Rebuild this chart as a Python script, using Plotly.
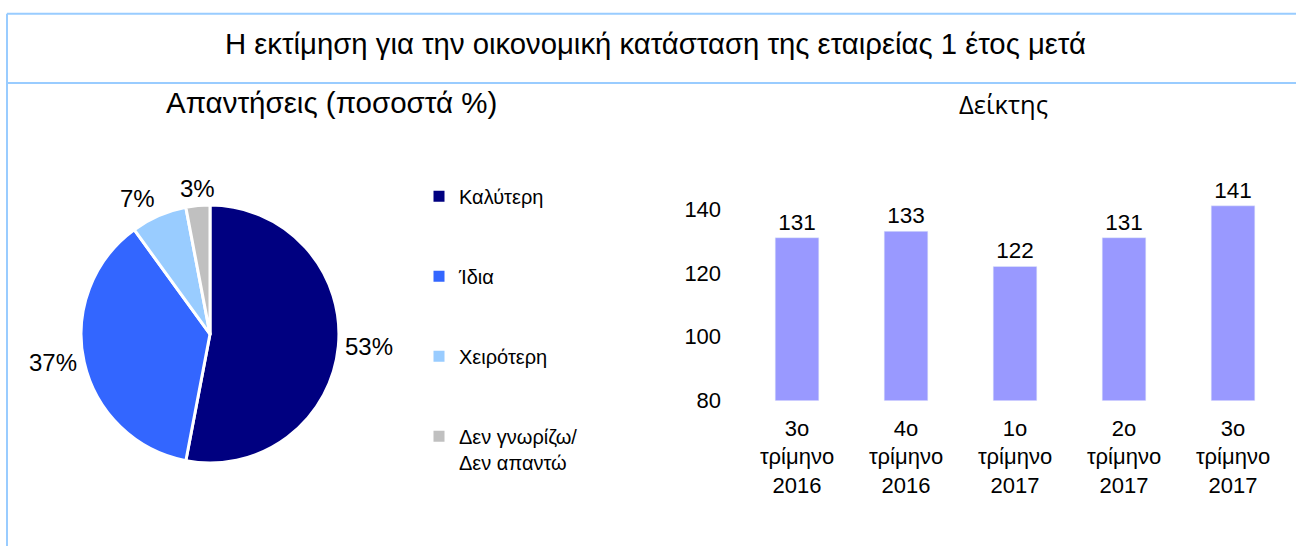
import math
import plotly.graph_objects as go

# ---- data ----
pie_labels = ["Καλύτερη", "Ίδια", "Χειρότερη", "Δεν γνωρίζω/<br>Δεν απαντώ"]
pie_values = [53, 37, 7, 3]
pie_colors = ["#000080", "#3366FF", "#99CCFF", "#C0C0C0"]

bar_categories = ["3o<br>τρίμηνο<br>2016", "4o<br>τρίμηνο<br>2016", "1o<br>τρίμηνο<br>2017",
                  "2o<br>τρίμηνο<br>2017", "3o<br>τρίμηνο<br>2017"]
bar_values = [131, 133, 122, 131, 141]
bar_color = "#9999FF"
y_ticks = [80, 100, 120, 140]

main_title = "Η εκτίμηση για την οικονομική κατάσταση της εταιρείας 1 έτος μετά"
pie_title = "Απαντήσεις (ποσοστά %)"
bar_title = "Δείκτης"

W, H = 1296, 559
FONT = "Liberation Sans, Arial, sans-serif"

def px(x):
    return x / W

def py(y):
    return (H - y) / H

# pie geometry (pixels)
PIE_CX, PIE_CY, PIE_R = 210, 342, 127

fig = go.Figure()

fig.add_trace(go.Pie(
    labels=pie_labels, values=pie_values, sort=False, direction="clockwise", rotation=0,
    marker=dict(colors=pie_colors, line=dict(color="white", width=3)),
    textinfo="none",
    domain=dict(x=[px(PIE_CX - PIE_R - 5), px(PIE_CX + PIE_R + 5)],
                y=[py(PIE_CY + PIE_R + 5), py(PIE_CY - PIE_R - 5)]),
    showlegend=False, hoverinfo="label+value",
))

# legend entries (one per pie category)
for lab, col in zip(pie_labels, pie_colors):
    fig.add_trace(go.Scatter(
        x=[None], y=[None], mode="markers", name=lab, legendgroup=lab,
        marker=dict(symbol="square", size=11, color=col),
        xaxis="x2", yaxis="y2", showlegend=True, hoverinfo="skip",
    ))

fig.add_trace(go.Bar(
    x=bar_categories, y=bar_values, marker=dict(color=bar_color),
    text=[str(v) for v in bar_values], textposition="outside",
    textfont=dict(size=22.5, color="black", family=FONT),
    cliponaxis=False, showlegend=False,
))

# pie percentage labels, placed radially at each slice's mid-angle
annotations = []
total = sum(pie_values)
cum = 0.0
for v in pie_values:
    mid = (cum + v / 2.0) / total * 2 * math.pi
    cum += v
    s, c = math.sin(mid), math.cos(mid)
    r = PIE_R + 7
    xp = PIE_CX + r * s
    yp = PIE_CY - r * c
    xa = "center" if abs(s) < 0.3 else ("left" if s > 0 else "right")
    ya = "middle" if abs(c) < 0.3 else ("bottom" if c > 0 else "top")
    annotations.append(dict(text=f"{v}%", xref="paper", yref="paper", x=px(xp), y=py(yp),
                            xanchor=xa, yanchor=ya, showarrow=False,
                            font=dict(size=24, family=FONT, color="black")))

annotations += [
    dict(text=main_title, xref="paper", yref="paper", x=px(655), y=py(45),
         xanchor="center", yanchor="middle", showarrow=False,
         font=dict(size=29.3, family=FONT)),
    dict(text=pie_title, xref="paper", yref="paper", x=px(331), y=py(105),
         xanchor="center", yanchor="middle", showarrow=False,
         font=dict(size=29.5, family=FONT)),
    dict(text=bar_title, xref="paper", yref="paper", x=px(1003), y=py(106),
         xanchor="center", yanchor="middle", showarrow=False,
         font=dict(size=25.5, family="Open Sans, Noto Sans, sans-serif")),
]

fig.update_layout(
    width=W, height=H,
    margin=dict(l=0, r=0, t=0, b=0),
    paper_bgcolor="white", plot_bgcolor="white",
    font=dict(family=FONT, size=22, color="black"),
    bargap=0.6,
    xaxis=dict(type="category", domain=[px(742.5), px(1287.5)], showgrid=False, showline=False,
               zeroline=False, ticks="outside", ticklen=8, tickcolor="rgba(0,0,0,0)",
               tickfont=dict(size=22, family=FONT)),
    yaxis=dict(domain=[py(410), py(181.3)], range=[80, 150], tickvals=y_ticks,
               showgrid=False, showline=False, zeroline=False,
               ticks="outside", ticklen=16, tickcolor="rgba(0,0,0,0)",
               tickfont=dict(size=22, family=FONT)),
    xaxis2=dict(visible=False, domain=[0, 0.01], anchor="y2"),
    yaxis2=dict(visible=False, domain=[0, 0.01], anchor="x2"),
    legend=dict(x=px(419), y=py(181), xanchor="left", yanchor="top",
                traceorder="grouped", tracegroupgap=51, valign="top",
                font=dict(size=20, family=FONT), bgcolor="rgba(0,0,0,0)"),
    shapes=[
        dict(type="line", xref="paper", yref="paper", x0=px(7), x1=1, y0=py(14), y1=py(14),
             line=dict(color="#99CCFF", width=2)),
        dict(type="line", xref="paper", yref="paper", x0=px(7), x1=1, y0=py(85), y1=py(85),
             line=dict(color="#99CCFF", width=2)),
        dict(type="line", xref="paper", yref="paper", x0=px(7), x1=px(7), y0=py(14), y1=0,
             line=dict(color="#99CCFF", width=2)),
    ],
    annotations=annotations,
)

fig.write_html(
    "out.html",
    config={"displayModeBar": False},
    post_script="document.body.style.margin='0';document.body.style.overflow='hidden';"
                "document.documentElement.style.overflow='hidden';",
)
